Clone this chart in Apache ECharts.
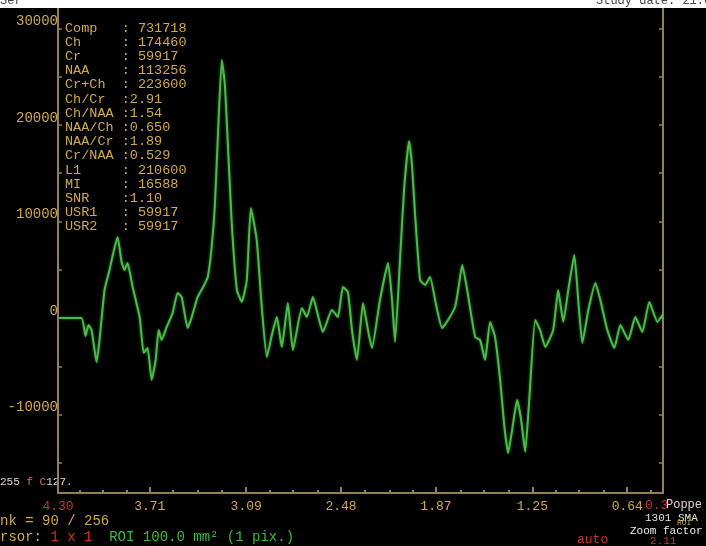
<!DOCTYPE html>
<html>
<head>
<meta charset="utf-8">
<script src="https://cdn.jsdelivr.net/npm/echarts@6/dist/echarts.min.js"></script>
<style>
  html, body { margin: 0; padding: 0; background: #000; }
  #chart { width: 706px; height: 546px; }
</style>
</head>
<body>
<div id="chart"></div>
<script>
// Spectrum samples: chemical shift (ppm) and signal intensity
const ppm = [
  4.290, 4.149, 4.123, 4.104, 4.084, 4.052, 4.033, 4.001, 3.969, 3.917,
  3.891, 3.872, 3.853, 3.820, 3.775, 3.749, 3.724, 3.698, 3.672, 3.653,
  3.634, 3.601, 3.563, 3.531, 3.505, 3.466, 3.440, 3.402, 3.370, 3.337,
  3.312, 3.292, 3.273, 3.247, 3.228, 3.209, 3.183, 3.150, 3.118, 3.086,
  3.060, 3.022, 2.990, 2.957, 2.925, 2.893, 2.861, 2.822, 2.790, 2.732,
  2.700, 2.661, 2.629, 2.597, 2.539, 2.500, 2.468, 2.436, 2.410, 2.378,
  2.339, 2.307, 2.281, 2.230, 2.178, 2.152, 2.133, 2.101, 2.075, 2.043,
  2.024, 2.004, 1.972, 1.940, 1.908, 1.869, 1.830, 1.792, 1.747, 1.727,
  1.701, 1.669, 1.618, 1.586, 1.554, 1.522, 1.490, 1.457, 1.431, 1.406,
  1.380, 1.348, 1.322, 1.296, 1.270, 1.232, 1.200, 1.167, 1.116, 1.084,
  1.051, 1.019, 0.980, 0.955, 0.929, 0.890, 0.845, 0.813, 0.768, 0.723,
  0.684, 0.633, 0.588, 0.543, 0.498, 0.446, 0.414
];
const intensity = [
  0, 0, -1860, -730, -1240, -4560, -2280, 2900, 4970, 8390,
  5800, 4970, 5700, 3210, 100, -3630, -3110, -6420, -4350, -1240,
  -2280, -930, 520, 2590, 2180, -1040, 100, 2180, 3110, 4250,
  7360, 11500, 18440, 26730, 24350, 18440, 9840, 2900, 1660, 3940,
  11400, 8080, 1140, -4040, -1760, 100, -3000, 1550, -3320, 1040,
  100, 2180, 310, -1450, 830, 100, 3210, 2690, -1240, -4350,
  1550, -1240, -3110, 1860, 5700, 1860, -2490, 6010, 13260, 18340,
  15850, 10670, 3940, 3420, 4250, 1350, -1040, -210, 1140, 2900,
  5490, 2900, -1970, -2280, -4350, -410, -1970, -6420, -11090, -13990,
  -11600, -8500, -10570, -13880, -8500, -210, -1240, -3000, -1240, 2900,
  -410, 2900, 6530, 1860, -2590, 830, 3630, 1860, -1240, -3110,
  -730, -2280, 100, -1450, 1660, -410, 310
];

// Axis ticks and labels
const ppmLabels = [4.30, 3.71, 3.09, 2.48, 1.87, 1.25, 0.64];
const ppmMajorTicks = [3.71, 3.09, 2.48, 1.87, 1.25, 0.64];
const ppmMinorTicks = [4.16, 4.01, 3.86, 3.56, 3.40, 3.25, 2.94, 2.79, 2.63,
  2.33, 2.17, 2.02, 1.71, 1.56, 1.40, 1.10, 0.95, 0.79, 0.49];
const yLabels = [-10000, 0, 10000, 20000, 30000];
const yTicks = [-15000, -10000, -5000, 0, 5000, 10000, 15000, 20000, 25000, 30000];

// Metabolite summary
const statNames = ['Comp', 'Ch', 'Cr', 'NAA', 'Cr+Ch', 'Ch/Cr', 'Ch/NAA', 'NAA/Ch',
  'NAA/Cr', 'Cr/NAA', 'L1', 'MI', 'SNR', 'USR1', 'USR2'];
const statValues = [' 731718', ' 174460', ' 59917', ' 113256', ' 223600', '2.91', '1.54',
  '0.650', '1.89', '0.529', ' 210600', ' 16588', '1.10', ' 59917', ' 59917'];

const GOLD = '#cfa94f';
const AXIS = '#93805a';
const RED = '#c8342e';
const GREEN = '#4abd48';
const MONO = '"Liberation Mono", "DejaVu Sans Mono", monospace';

const chart = echarts.init(document.getElementById('chart'), null, { renderer: 'canvas' });

const graphics = [
  { type: 'rect', left: 0, top: 0, shape: { width: 706, height: 8 }, style: { fill: '#ffffff' }, z: 10 },
  { type: 'text', left: 596, top: -5, style: { text: 'Study date: 21.05', font: '12px ' + MONO, fill: '#444' }, z: 11 },
  { type: 'text', left: 0, top: -5, style: { text: 'Ser', font: '12px ' + MONO, fill: '#444' }, z: 11 }
];

statNames.forEach((name, i) => {
  const isRatio = !statValues[i].startsWith(' ');
  const line = name.padEnd(7, ' ') + ':' + (isRatio ? '' : ' ') + statValues[i].trim();
  graphics.push({
    type: 'text', left: 65, top: 28 + i * 14.2 - 7,
    style: { text: line, font: '13.5px ' + MONO, fill: GOLD }, z: 5
  });
});

// Status lines around the plot frame
graphics.push(
  { type: 'text', left: 0, top: 477, style: {
      text: '{w|255 }{r|f C}{w|127.}',
      rich: { w: { fill: '#e2d2cf', font: '11px ' + MONO }, r: { fill: '#d86a6a', font: '11px ' + MONO } } } },
  { type: 'text', left: 0, top: 514, style: { text: 'nk = 90 / 256', font: '14px ' + MONO, fill: GOLD } },
  { type: 'text', left: 0, top: 530, style: {
      text: '{g|rsor: }{r|1 x 1}{s|  }{n|ROI 100.0 mm² (1 pix.)}',
      rich: {
        g: { fill: GOLD, font: '14px ' + MONO },
        r: { fill: RED, font: '14px ' + MONO },
        s: { font: '14px ' + MONO },
        n: { fill: '#3fb83f', font: '14px ' + MONO }
      } } },
  { type: 'text', left: 645, top: 499, style: { text: '0.3', font: '13px ' + MONO, fill: RED } },
  { type: 'text', left: 666, top: 499, style: { text: 'Poppe', font: '12px ' + MONO, fill: '#e6cfd4' } },
  { type: 'text', left: 645, top: 513, style: { text: '1301 SMA', font: '11px ' + MONO, fill: '#e8e2de' } },
  { type: 'text', left: 677, top: 519, style: { text: 'ROI', font: '8px ' + MONO, fill: GOLD } },
  { type: 'text', left: 577, top: 533, style: { text: 'auto', font: '13px ' + MONO, fill: RED } },
  { type: 'text', left: 650, top: 536, style: { text: '2.11', font: '11px ' + MONO, fill: RED } },
  { type: 'text', left: 630, top: 526, style: { text: 'Zoom factor', font: '11px ' + MONO, fill: '#eeeeee' } }
);

const option = {
  backgroundColor: '#000000',
  animation: false,
  grid: { left: 58, right: 43, top: 8, bottom: 53, containLabel: false },
  xAxis: [
    {
      type: 'value', inverse: true, min: 0.41, max: 4.30,
      position: 'bottom',
      axisLine: { show: true, onZero: false, lineStyle: { color: AXIS, width: 2 } },
      axisTick: { show: true, inside: true, length: 6, customValues: ppmMajorTicks, lineStyle: { color: AXIS, width: 2 } },
      axisLabel: {
        show: true, margin: 7, customValues: ppmLabels,
        formatter: v => (Math.abs(v - 4.30) < 1e-6 ? '{r|' + v.toFixed(2) + '}' : '{g|' + v.toFixed(2) + '}'),
        rich: {
          r: { color: RED, fontFamily: MONO, fontSize: 13 },
          g: { color: GOLD, fontFamily: MONO, fontSize: 13 }
        }
      },
      splitLine: { show: false }
    },
    {
      type: 'value', inverse: true, min: 0.41, max: 4.30,
      position: 'bottom',
      axisLine: { show: false, onZero: false },
      axisTick: { show: true, inside: true, length: 3, customValues: ppmMinorTicks, lineStyle: { color: AXIS, width: 2 } },
      axisLabel: { show: false },
      splitLine: { show: false }
    }
  ],
  yAxis: [
    {
      type: 'value', min: -18130, max: 32120, position: 'left',
      axisLine: { show: true, onZero: false, lineStyle: { color: AXIS, width: 2 } },
      axisTick: { show: true, inside: true, length: 4, customValues: yTicks, lineStyle: { color: AXIS, width: 1.5 } },
      axisLabel: {
        show: true, margin: 0, customValues: yLabels, color: GOLD,
        fontFamily: MONO, fontSize: 14, verticalAlign: 'bottom',
        formatter: v => String(v)
      },
      splitLine: { show: false }
    },
    {
      type: 'value', min: -18130, max: 32120, position: 'right',
      axisLine: { show: true, onZero: false, lineStyle: { color: AXIS, width: 2 } },
      axisTick: { show: true, inside: true, length: 4, customValues: yTicks, lineStyle: { color: AXIS, width: 1.5 } },
      axisLabel: { show: false },
      splitLine: { show: false }
    }
  ],
  series: [
    {
      type: 'line',
      xAxisIndex: 0, yAxisIndex: 0,
      data: ppm.map((p, i) => [p, intensity[i]]),
      showSymbol: false,
      smooth: 0.15,
      lineStyle: { color: GREEN, width: 2, shadowColor: 'rgba(80,200,80,0.6)', shadowBlur: 3 },
      z: 3
    }
  ],
  graphic: graphics
};

chart.setOption(option);
</script>
</body>
</html>
